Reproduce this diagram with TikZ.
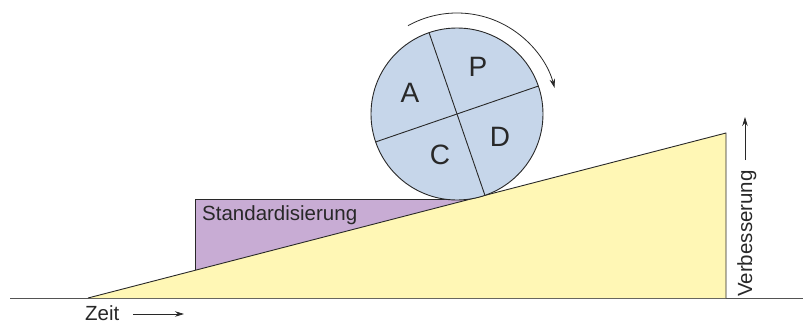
\documentclass[tikz,border=0pt]{standalone}
\usepackage{fontspec}
\setmainfont{Liberation Sans}
\usetikzlibrary{arrows.meta}
\definecolor{wheelblue}{RGB}{198,214,234}
\definecolor{stdpurple}{RGB}{200,172,212}
\definecolor{rampyellow}{RGB}{255,247,181}
\definecolor{ink}{RGB}{40,40,40}
\tikzset{
  outline/.style={draw=ink, line width=0.9pt, line join=round},
  lbl/.style={inner sep=0pt, text=ink},
  arrowline/.style={draw=ink, line width=0.8pt, -{Stealth[length=9pt,width=5.5pt]}},
}
\begin{document}
\begin{tikzpicture}[x=1pt,y=-1pt]
\useasboundingbox (0,0) rectangle (803,324);
% baseline
\coordinate (bl) at (10,298);
\coordinate (br) at (803,298);
\draw[draw=ink!80, line width=0.9pt] (bl) -- (br);
% standardisation block
\coordinate (s1) at (195,270.3);
\coordinate (s2) at (195,199);
\coordinate (s3) at (470.8,199);
\fill[stdpurple] (s1) -- (s2) -- (s3) -- cycle;
\draw[outline] (s1) -- (s2) -- (s3);
% ramp
\coordinate (r1) at (88,298);
\coordinate (r2) at (726,133);
\coordinate (r3) at (726,298);
\fill[rampyellow] (r1) -- (r2) -- (r3) -- cycle;
\draw[outline] (r1) -- (r2) -- (r3);
% wheel
\node[circle, fill=wheelblue, outline, minimum size=172pt, inner sep=0pt] (wheel) at (457,114) {};
\coordinate (d1a) at (429.05,32.64);
\coordinate (d1b) at (484.95,195.36);
\coordinate (d2a) at (538.4,86.05);
\coordinate (d2b) at (375.6,141.95);
\draw[outline] (d1a) -- (d1b);
\draw[outline] (d2a) -- (d2b);
\node[lbl, font=\fontsize{28}{30}\selectfont] (A) at (410,93) {A};
\node[lbl, font=\fontsize{28}{30}\selectfont] (P) at (478,67) {P};
\node[lbl, font=\fontsize{28}{30}\selectfont] (C) at (440,155) {C};
\node[lbl, font=\fontsize{28}{30}\selectfont] (D) at (500,137) {D};
% rotation arrow
\coordinate (arcstart) at ([shift={(-119:101)}]wheel.center);
\draw[arrowline] (arcstart) arc[start angle=-119, end angle=-15, radius=101];
% labels
\node[lbl, anchor=base west, font=\fontsize{20.5}{24}\selectfont] (std) at (202,220) {Standardisierung};
\node[lbl, anchor=base west, font=\fontsize{20.5}{24}\selectfont] (zeit) at (85,320) {Zeit};
\coordinate (za) at (133,314);
\coordinate (zb) at (184,314);
\draw[arrowline] (za) -- (zb);
\node[lbl, anchor=base west, rotate=90, font=\fontsize{20.5}{24}\selectfont] (verb) at (752,297) {Verbesserung};
\coordinate (va) at (745,160);
\coordinate (vb) at (745,117);
\draw[arrowline] (va) -- (vb);
\end{tikzpicture}
\end{document}
